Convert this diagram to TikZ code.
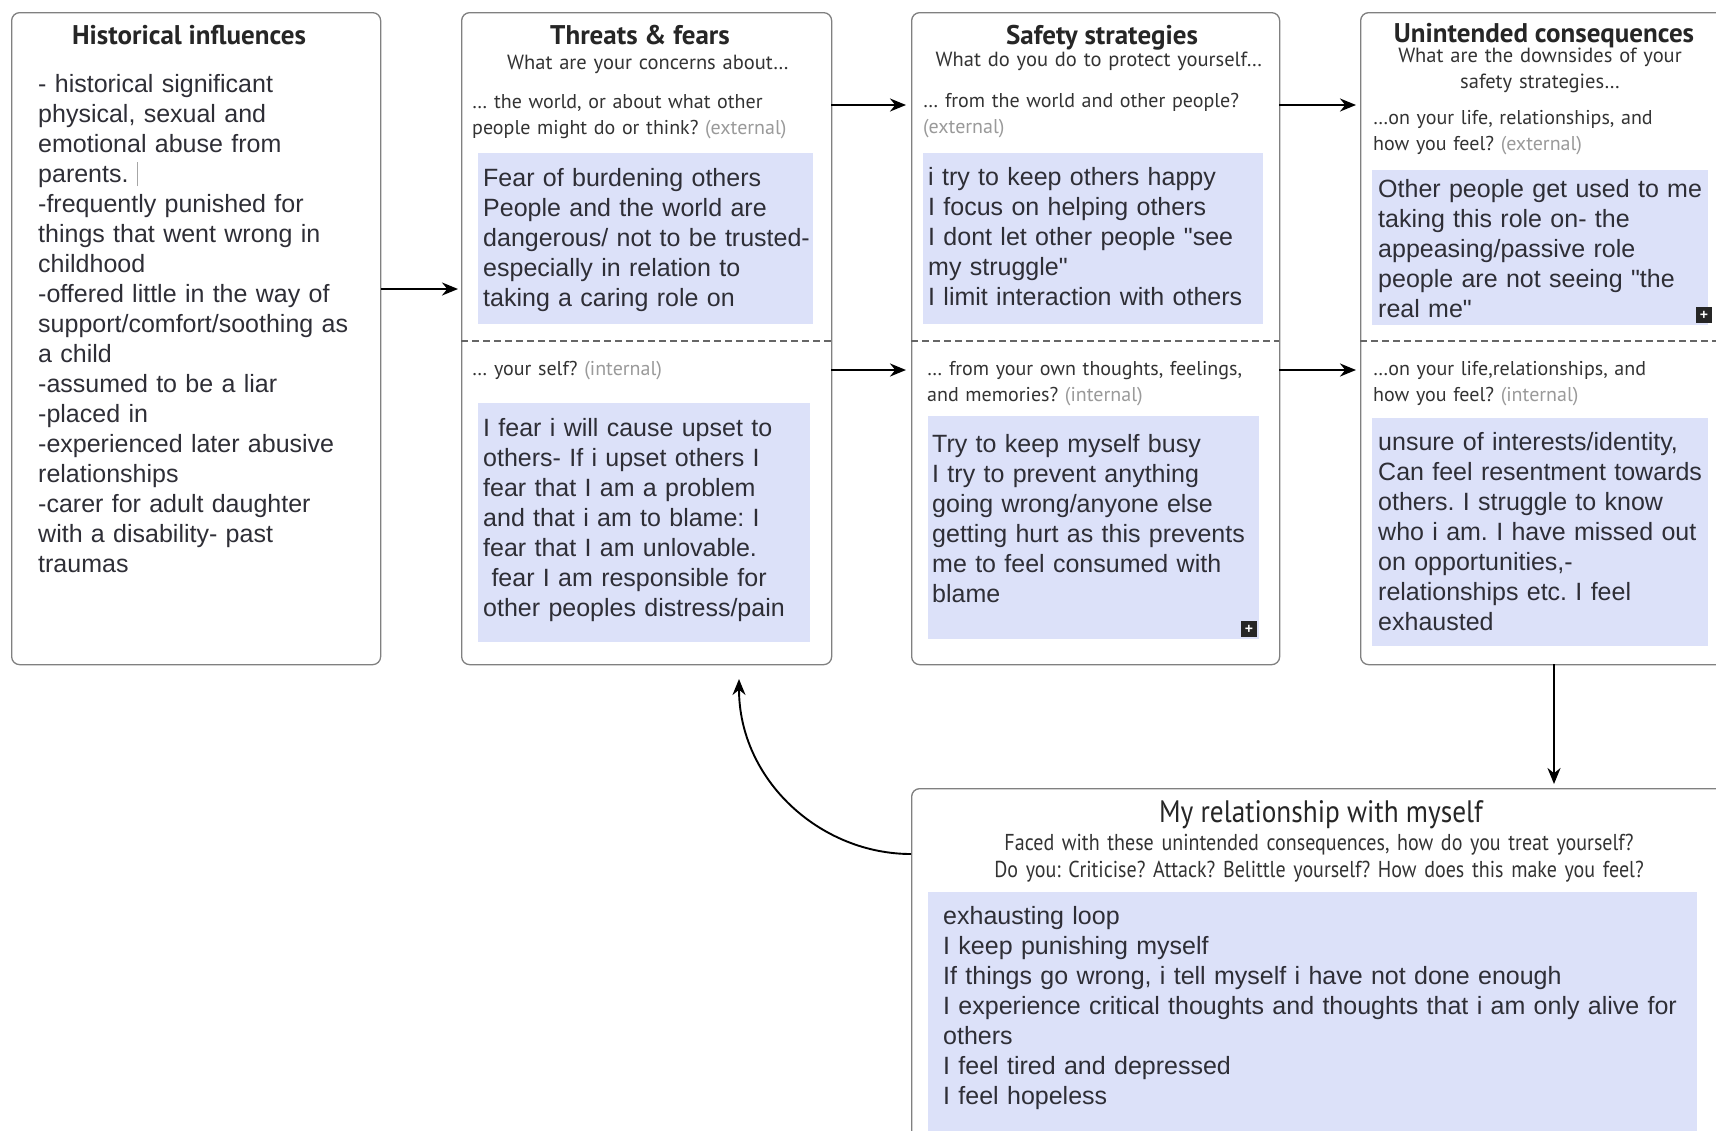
\documentclass[tikz,border=0pt]{standalone}
\usepackage{fontspec}
\setmainfont{Liberation Sans}
\newfontfamily\lab{PT Sans}
\newfontfamily\labn[FakeStretch=0.87]{PT Sans}
\newfontfamily\labt[FakeStretch=0.88]{PT Sans}
\usetikzlibrary{arrows.meta}
\definecolor{bluebg}{HTML}{DCE1F9}
\definecolor{bordc}{HTML}{808080}
\definecolor{txt}{HTML}{2E2E36}
\definecolor{lbl}{HTML}{333333}
\definecolor{lgray}{HTML}{9A9A9A}
\newcommand{\dq}{\textquotedbl}
\frenchspacing
\tikzset{
  panel/.style={draw=bordc, line width=1.3pt, rounded corners=8pt, fill=white, anchor=north west, inner sep=0pt},
  bluebox/.style={fill=bluebg, draw=none, anchor=north west, inner sep=0pt},
  body/.style={font=\fontsize{25}{30}\selectfont\frenchspacing, text=txt, inner sep=0pt, anchor=base west, align=left, text width=#1},
  ttl/.style={font=\lab\bfseries\fontsize{27}{30}\selectfont, text=black!85, inner sep=0pt, anchor=base},
  sub/.style={font=\lab\fontsize{20.5}{26}\selectfont\frenchspacing, text=lbl, inner sep=0pt, anchor=base, align=center, text width=#1},
  lab/.style={font=\lab\fontsize{20}{26}\selectfont\frenchspacing, text=lbl, inner sep=0pt, anchor=base west, align=left, text width=#1},
  sep/.style={draw=bordc!80!black, dash pattern=on 7pt off 4pt, line width=1.2pt},
  arr/.style={-{Stealth[length=16pt,width=13pt]}, line width=2.4pt, black},
  plus/.style={fill=black!85, minimum size=16pt, inner sep=0pt, text=white, font=\bfseries\fontsize{14}{14}\selectfont}
}
\begin{document}
\begin{tikzpicture}[x=1pt,y=-1pt]
\clip (0,0) rectangle (1716,1130);
\fill[white] (0,0) rectangle (1716,1130);

% panels
\node[panel, minimum width=369pt, minimum height=652pt] (hist) at (11,12) {};
\node[panel, minimum width=370pt, minimum height=652pt] (threat) at (461,12) {};
\node[panel, minimum width=368pt, minimum height=652pt] (safe) at (911,12) {};
\node[panel, minimum width=380pt, minimum height=652pt] (unint) at (1360,12) {};
\node[panel, minimum width=830pt, minimum height=380pt] (myself) at (911,788) {};

% dashed separators
\coordinate (t1) at (461,341); \coordinate (t2) at (831,341);
\coordinate (s1) at (911,341); \coordinate (s2) at (1279,341);
\coordinate (u1) at (1360,341); \coordinate (u2) at (1720,341);
\draw[sep] (t1) -- (t2);
\draw[sep] (s1) -- (s2);
\draw[sep] (u1) -- (u2);

% blue boxes
\node[bluebox, minimum width=335pt, minimum height=171pt] (b2u) at (478,153) {};
\node[bluebox, minimum width=332pt, minimum height=239pt] (b2l) at (478,403) {};
\node[bluebox, minimum width=340pt, minimum height=171pt] (b3u) at (923,153) {};
\node[bluebox, minimum width=331pt, minimum height=223pt] (b3l) at (928,416) {};
\node[bluebox, minimum width=336pt, minimum height=155pt] (b4u) at (1372,170) {};
\node[bluebox, minimum width=336pt, minimum height=228pt] (b4l) at (1372,418) {};
\node[bluebox, minimum width=769pt, minimum height=260pt] (b5) at (928,892) {};

% titles
\node[ttl] (tt1) at (189,44) {Historical influences};
\node[ttl] (tt2) at (640,44) {Threats \& fears};
\node[ttl] (tt3) at (1102,44) {Safety strategies};
\node[ttl] (tt4) at (1544,42) {Unintended consequences};
\node[ttl, font=\labt\fontsize{31}{34}\selectfont] (tt5) at (1321,822) {My relationship with myself};

% subtitles
\node[sub=360pt] (st2) at (648,69) {What are your concerns about…};
\node[sub=360pt] (st3) at (1099,66) {What do you do to protect yourself…};
\node[sub=340pt] (st4) at (1540,62) {What are the downsides of your\\safety strategies…};
\node[sub=780pt, font=\labn\fontsize{23}{27}\selectfont\frenchspacing] (st5) at (1319,850) {Faced with these unintended consequences, how do you treat yourself?\\Do you: Criticise? Attack? Belittle yourself? How does this make you feel?};

% labels
\node[lab=360pt] (l2u) at (472,108) {… the world, or about what other\\people might do or think? \textcolor{lgray}{(external)}};
\node[lab=360pt] (l2l) at (472,375) {… your self? \textcolor{lgray}{(internal)}};
\node[lab=360pt] (l3u) at (923,107) {… from the world and other people?\\\textcolor{lgray}{(external)}};
\node[lab=360pt] (l3l) at (927,375) {… from your own thoughts, feelings,\\and memories? \textcolor{lgray}{(internal)}};
\node[lab=340pt] (l4u) at (1373,124) {…on your life, relationships, and\\how you feel? \textcolor{lgray}{(external)}};
\node[lab=340pt] (l4l) at (1373,375) {…on your life,relationships, and\\how you feel? \textcolor{lgray}{(internal)}};

% body texts
\node[body=345pt] (x1) at (38,92) {- historical significant\\physical, sexual and\\emotional abuse from\\parents. \textcolor{black!35}{\rule[-4pt]{1.2pt}{24pt}}\\-frequently punished for\\things that went wrong in\\childhood\\-offered little in the way of\\support/comfort/soothing as\\a child\\-assumed to be a liar\\-placed in\\-experienced later abusive\\relationships\\-carer for adult daughter\\with a disability- past\\traumas};
\node[body=340pt] (x2u) at (483,186) {Fear of burdening others\\People and the world are\\dangerous/ not to be trusted-\\especially in relation to\\taking a caring role on};
\node[body=340pt] (x2l) at (483,436) {I fear i will cause upset to\\others- If i upset others I\\fear that I am a problem\\and that i am to blame: I\\fear that I am unlovable.\\\ fear I am responsible for\\other peoples distress/pain};
\node[body=340pt] (x3u) at (928,185) {i try to keep others happy\\I focus on helping others\\I dont let other people \dq see\\my struggle\dq\\I limit interaction with others};
\node[body=340pt] (x3l) at (932,452) {Try to keep myself busy\\I try to prevent anything\\going wrong/anyone else\\getting hurt as this prevents\\me to feel consumed with\\blame};
\node[body=340pt] (x4u) at (1378,197) {Other people get used to me\\taking this role on- the\\appeasing/passive role\\people are not seeing \dq the\\real me\dq};
\node[body=340pt] (x4l) at (1378,450) {unsure of interests/identity,\\Can feel resentment towards\\others. I struggle to know\\who i am. I have missed out\\on opportunities,-\\relationships etc. I feel\\exhausted};
\node[body=760pt] (x5) at (943,924) {exhausting loop\\I keep punishing myself\\If things go wrong, i tell myself i have not done enough\\I experience critical thoughts and thoughts that i am only alive for\\others\\I feel tired and depressed\\I feel hopeless};

% plus markers
\node[plus] (p3) at (1249,629) {+};
\node[plus] (p4) at (1704,315) {+};

% connectors
\draw[arr] (hist.east |- 0,289) -- (458,289);
\coordinate (a2s) at (831,105); \coordinate (a2e) at (906,105);
\coordinate (a3s) at (831,370); \coordinate (a3e) at (906,370);
\coordinate (a4s) at (1279,105); \coordinate (a4e) at (1356,105);
\coordinate (a5s) at (1279,370); \coordinate (a5e) at (1356,370);
\draw[arr] (a2s) -- (a2e);
\draw[arr] (a3s) -- (a3e);
\draw[arr] (a4s) -- (a4e);
\draw[arr] (a5s) -- (a5e);
\coordinate (v1) at (1554,664); \coordinate (v2) at (1554,784);
\draw[arr] (v1) -- (v2);
\coordinate (c1) at (911,854); \coordinate (c2) at (739,679);
\draw[arr, line width=1.9pt] (c1) .. controls (820,854) and (739,780) .. (c2);
\end{tikzpicture}
\end{document}
